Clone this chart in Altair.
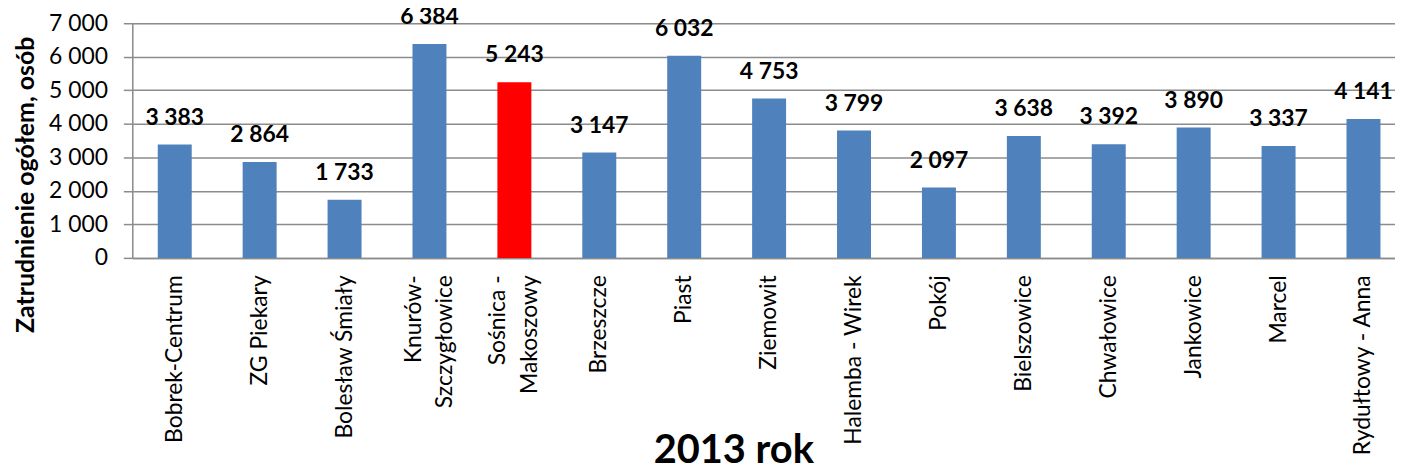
import altair as alt
import pandas as pd

mines = ["Bobrek-Centrum", "ZG Piekary", "Bolesław Śmiały", "Knurów-\nSzczygłowice",
         "Sośnica -\nMakoszowy", "Brzeszcze", "Piast", "Ziemowit", "Halemba - Wirek",
         "Pokój", "Bielszowice", "Chwałowice", "Jankowice", "Marcel", "Rydułtowy - Anna"]
employment = [3383, 2864, 1733, 6384, 5243, 3147, 6032, 4753, 3799, 2097, 3638, 3392, 3890, 3337, 4141]
highlight = "Sośnica -\nMakoszowy"
title_text = "2013 rok"
y_title = "Zatrudnienie ogółem, osób"
y_ticks = [0, 1000, 2000, 3000, 4000, 5000, 6000, 7000]

df = pd.DataFrame({"mine": mines, "value": employment})

FONT = "Lato"
W, H = 1270, 236

x = alt.X("mine:N", sort=None, title=None,
          scale=alt.Scale(range=[0, 1281], paddingInner=0.6, paddingOuter=0.3),
          axis=alt.Axis(labelAngle=-90, ticks=False, labelPadding=17, labelFontSize=23,
                        labelFont=FONT, labelColor="#000000", labelLineHeight=32,
                        labelExpr="split(datum.label, '\\n')", domainColor="#8c8c8c",
                        domainWidth=1.5, labelLimit=400, labelOverlap=False,
                        labelOffset={"condition": {"test": "indexof(datum.label, '\\n') >= 0",
                                                   "value": -16}, "value": 0}))
y = alt.Y("value:Q", title=y_title,
          scale=alt.Scale(domain=[0, 7000], nice=False),
          axis=alt.Axis(values=y_ticks, tickCount=10, tickSize=9, tickColor="#8c8c8c",
                        labelOverlap=False,
                        tickWidth=1.5, labelPadding=16, labelFontSize=23, labelFont=FONT,
                        labelColor="#000000", gridColor="#8c8c8c", gridWidth=1.5,
                        domainColor="#8c8c8c", domainWidth=1.5,
                        labelExpr="replace(format(datum.value, ','), ',', ' ')",
                        titleFont=FONT, titleFontSize=25, titleFontWeight="bold",
                        titleColor="#000000", titlePadding=10, titleLimit=500, titleY=162))

base = alt.Chart(df)

bars = base.mark_bar().encode(
    x=x, y=y,
    color=alt.condition(alt.datum.mine == highlight, alt.value("#FF0000"), alt.value("#4F81BD")),
)

labels = base.transform_calculate(
    lbl="replace(format(datum.value, ','), ',', ' ')"
).mark_text(font=FONT, fontSize=23, fontWeight="bold", color="#000000",
            baseline="alphabetic", dy=-20).encode(
    x=alt.X("mine:N", sort=None), y="value:Q", text="lbl:N")

title = alt.Chart(pd.DataFrame({"t": [title_text]})).mark_text(
    font=FONT, fontSize=40, fontWeight="bold", color="#000000",
    baseline="alphabetic", align="center").encode(
    x=alt.value(605), y=alt.value(442), text="t:N")

chart = alt.layer(bars, labels, title).properties(
    width=W, height=H,
    autosize=alt.AutoSizeParams(type="none"),
    padding={"left": 125, "top": 14, "right": 0, "bottom": 210},
).configure_view(stroke=None).configure(background="#ffffff")

chart.save("out.html", embed_options={"renderer": "svg", "actions": False})
